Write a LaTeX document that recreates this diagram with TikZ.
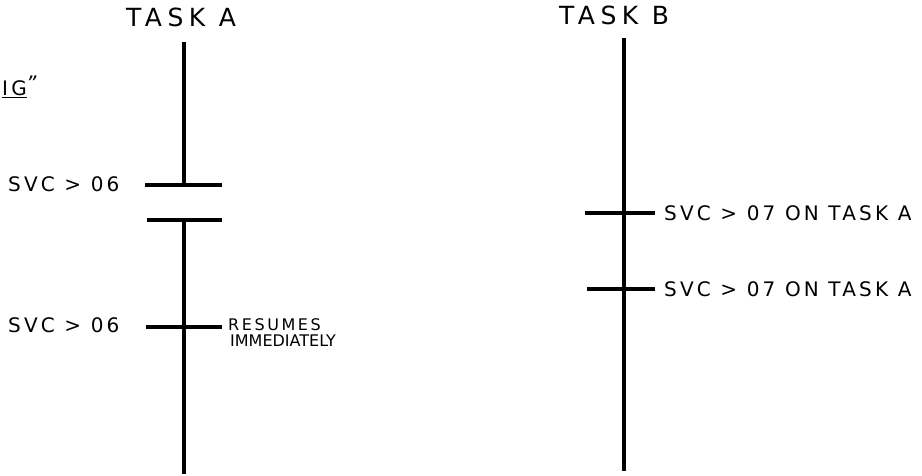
\documentclass[tikz,border=0pt]{standalone}
\usepackage{fontspec}
\setmainfont{DejaVu Sans}
\newfontfamily\titlefont[LetterSpace=22]{DejaVu Sans}
\newfontfamily\labfont[LetterSpace=16]{DejaVu Sans}
\newfontfamily\widesmallfont[LetterSpace=16]{DejaVu Sans}
\newfontfamily\smallfont[LetterSpace=0]{DejaVu Sans}
\begin{document}
\begin{tikzpicture}[x=1pt,y=-1pt]
\tikzset{
  timeline/.style={line width=3.2pt},
  bar/.style={line width=3.2pt},
  title/.style={inner sep=0pt, font=\titlefont\fontsize{25}{27}\selectfont},
  lab/.style={inner sep=0pt, font=\labfont\fontsize{20}{22}\selectfont},
  small/.style={inner sep=0pt, font=\smallfont\fontsize{16}{17}\selectfont},
  widesmall/.style={inner sep=0pt, font=\widesmallfont\fontsize{16}{17}\selectfont}
}
\useasboundingbox (0,0) rectangle (922,476);
% titles
\node[title] (ta) at (181,17) {TASK A};
\node[title] (tb) at (614,15) {TASK B};
% cut-off heading fragment
\node[lab, anchor=east] (ig) at (27,89) {\underline{IG}};
\node[inner sep=0pt, anchor=west, font=\fontsize{20}{22}\selectfont\itshape] (q) at (26,83) {”};
% task A line
\coordinate (a0) at (184,42);
\coordinate (a1) at (184,185);
\coordinate (a2) at (184,220);
\coordinate (a3) at (184,474);
\draw[timeline] (a0) -- (a1);
\draw[timeline] (a2) -- (a3);
\coordinate (b1l) at (145,185); \coordinate (b1r) at (222,185);
\coordinate (b2l) at (147,220); \coordinate (b2r) at (222,220);
\coordinate (b3l) at (146,327); \coordinate (b3r) at (222,327);
\draw[bar] (b1l) -- (b1r);
\draw[bar] (b2l) -- (b2r);
\draw[bar] (b3l) -- (b3r);
\node[lab, anchor=west] (s1) at (8,184) {SVC > 06};
\node[lab, anchor=west] (s2) at (8,325) {SVC > 06};
\node[widesmall, anchor=west] (res) at (228,325) {RESUMES};
\node[small, anchor=west] (imm) at (230,341) {IMMEDIATELY};
% task B line
\coordinate (c0) at (624,38);
\coordinate (c3) at (624,471);
\draw[timeline] (c0) -- (c3);
\coordinate (d1l) at (585,213); \coordinate (d1r) at (655,213);
\coordinate (d2l) at (587,289); \coordinate (d2r) at (655,289);
\draw[bar] (d1l) -- (d1r);
\draw[bar] (d2l) -- (d2r);
\node[lab, anchor=west] (t1) at (664,213) {SVC > 07 ON TASK A};
\node[lab, anchor=west] (t2) at (664,289) {SVC > 07 ON TASK A};
\end{tikzpicture}
\end{document}
